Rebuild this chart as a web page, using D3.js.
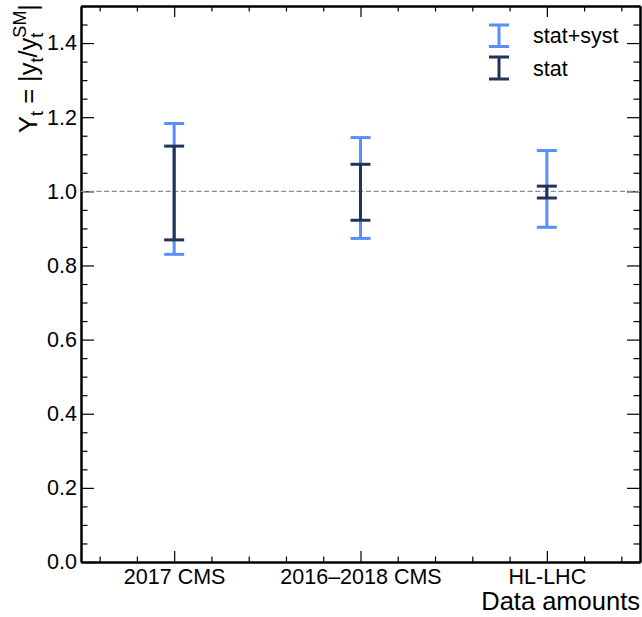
<!DOCTYPE html>
<html>
<head>
<meta charset="utf-8">
<script src="https://cdn.jsdelivr.net/npm/d3@7"></script>
<style>
  body { margin: 0; background: #fff; }
  svg { display: block; font-family: "Liberation Sans", Arial, sans-serif; }
  .axis path.domain { stroke: #000; stroke-width: 2; }
  .axis line { stroke: #000; stroke-width: 1.2; }
  .axis text { font-size: 21.5px; fill: #000; }
</style>
</head>
<body>
<svg id="chart"></svg>
<script>
const categories = ["2017 CMS", "2016\u20132018 CMS", "HL-LHC"];
const statSystLow = [0.830, 0.873, 0.903];
const statSystHigh = [1.183, 1.145, 1.110];
const statLow = [0.869, 0.922, 0.982];
const statHigh = [1.122, 1.073, 1.014];
const yTicks = [0, 0.2, 0.4, 0.6, 0.8, 1.0, 1.2, 1.4];
const yMinorTicks = d3.range(0, 1.5001, 0.05).filter(v => !yTicks.some(t => Math.abs(t - v) < 1e-6));
const xMinorTicks = d3.range(0.1, 3, 0.2).filter(v => Math.abs((v % 1) - 0.5) > 1e-6);

const width = 642;
const height = 617;
const margin = {top: 6, right: 2, bottom: 55, left: 81};

const svg = d3.select("#chart")
              .attr("width", width)
              .attr("height", height);

const x = d3.scaleLinear()
            .domain([0, 3])
            .range([margin.left, width - margin.right]);

const y = d3.scaleLinear()
            .domain([0, 1.5])
            .range([height - margin.bottom, margin.top]);

const catPos = categories.map((c, i) => i + 0.5);

// axes: major + minor, inward ticks on all four sides
const bottom = height - margin.bottom;
const right = width - margin.right;

svg.append("g")
   .attr("class", "axis")
   .attr("transform", "translate(0," + bottom + ")")
   .call(d3.axisBottom(x).tickValues(xMinorTicks).tickSizeInner(-5.5).tickSizeOuter(0).tickFormat(""));

svg.append("g")
   .attr("class", "axis")
   .attr("transform", "translate(0," + bottom + ")")
   .call(d3.axisBottom(x).tickValues(catPos).tickSizeInner(-11).tickSizeOuter(0)
           .tickPadding(8).tickFormat((d, i) => categories[i]))
   .selectAll("text").attr("dy", "0.66em");

svg.append("g")
   .attr("class", "axis")
   .attr("transform", "translate(0," + margin.top + ")")
   .call(d3.axisTop(x).tickValues(xMinorTicks).tickSizeInner(-5.5).tickSizeOuter(0).tickFormat(""));

svg.append("g")
   .attr("class", "axis")
   .attr("transform", "translate(0," + margin.top + ")")
   .call(d3.axisTop(x).tickValues(catPos).tickSizeInner(-11).tickSizeOuter(0).tickFormat(""));

svg.append("g")
   .attr("class", "axis")
   .attr("transform", "translate(" + margin.left + ",0)")
   .call(d3.axisLeft(y).tickValues(yMinorTicks).tickSizeInner(-6.5).tickSizeOuter(0).tickFormat(""));

svg.append("g")
   .attr("class", "axis")
   .attr("transform", "translate(" + margin.left + ",0)")
   .call(d3.axisLeft(y).tickValues(yTicks).tickSizeInner(-13).tickSizeOuter(0)
           .tickPadding(4).tickFormat(d3.format(".1f")));

svg.append("g")
   .attr("class", "axis")
   .attr("transform", "translate(" + right + ",0)")
   .call(d3.axisRight(y).tickValues(yMinorTicks).tickSizeInner(-6.5).tickSizeOuter(0).tickFormat(""));

svg.append("g")
   .attr("class", "axis")
   .attr("transform", "translate(" + right + ",0)")
   .call(d3.axisRight(y).tickValues(yTicks).tickSizeInner(-13).tickSizeOuter(0).tickFormat(""));

// reference line at SM
svg.append("line")
   .attr("x1", x(0)).attr("x2", x(3))
   .attr("y1", y(1)).attr("y2", y(1))
   .attr("stroke", "#8c8c8c")
   .attr("stroke-width", 1.3)
   .attr("stroke-dasharray", "5,2.7");

const colSyst = "#5790fc";
const colStat = "#213559";
const capHalf = 10;

function errorBar(g, cx, lo, hi, color) {
  g.append("line")
   .attr("x1", cx).attr("x2", cx)
   .attr("y1", y(lo)).attr("y2", y(hi))
   .attr("stroke", color).attr("stroke-width", 3);
  [lo, hi].forEach(v => {
    g.append("line")
     .attr("x1", cx - capHalf).attr("x2", cx + capHalf)
     .attr("y1", y(v)).attr("y2", y(v))
     .attr("stroke", color).attr("stroke-width", 3);
  });
}

const bars = svg.append("g");
categories.forEach((c, i) => {
  errorBar(bars, x(catPos[i]), statSystLow[i], statSystHigh[i], colSyst);
  errorBar(bars, x(catPos[i]), statLow[i], statHigh[i], colStat);
});

// legend
const legend = svg.append("g");
const legendItems = [{label: "stat+syst", color: colSyst, top: 25, bot: 46.5},
                     {label: "stat", color: colStat, top: 57, bot: 79}];
legendItems.forEach(item => {
  const cx = 499;
  legend.append("line")
        .attr("x1", cx).attr("x2", cx).attr("y1", item.top).attr("y2", item.bot)
        .attr("stroke", item.color).attr("stroke-width", 3);
  [item.top, item.bot].forEach(v => {
    legend.append("line")
          .attr("x1", cx - capHalf).attr("x2", cx + capHalf).attr("y1", v).attr("y2", v)
          .attr("stroke", item.color).attr("stroke-width", 3);
  });
  legend.append("text")
        .attr("x", 533)
        .attr("y", (item.top + item.bot) / 2)
        .attr("dy", "0.35em")
        .style("font-size", "21.5px")
        .text(item.label);
});

// axis titles
svg.append("text")
   .attr("x", 640)
   .attr("y", 610)
   .attr("text-anchor", "end")
   .style("font-size", "25.5px")
   .text("Data amounts");

const yLabel = svg.append("text")
   .attr("transform", "translate(37,4) rotate(-90)")
   .attr("text-anchor", "end")
   .style("font-size", "25.5px");
yLabel.append("tspan").text("Y");
yLabel.append("tspan").attr("dy", 6).style("font-size", "18px").text("t");
yLabel.append("tspan").attr("dy", -6).text(" = |y");
yLabel.append("tspan").attr("dy", 6).style("font-size", "18px").text("t");
yLabel.append("tspan").attr("dy", -6).text("/y");
yLabel.append("tspan").attr("dy", 6).style("font-size", "18px").text("t");
yLabel.append("tspan").attr("dx", -5).attr("dy", -17).style("font-size", "18px").text("SM");
yLabel.append("tspan").attr("dy", 11).text("|");
</script>
</body>
</html>
